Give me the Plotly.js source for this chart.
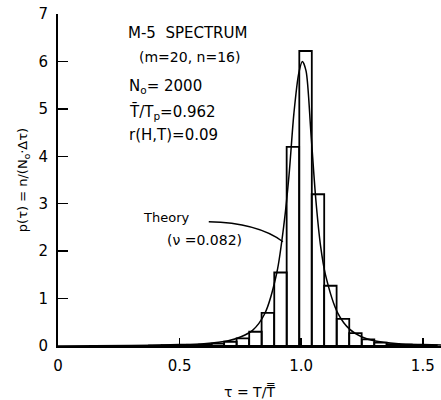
<!DOCTYPE html>
<html>
<head>
<meta charset="utf-8">
<script src="https://cdn.plot.ly/plotly-3.0.1.min.js"></script>
<style>html,body{margin:0;padding:0;background:#fff;}#chart{width:441px;height:400px;}</style>
</head>
<body>
<div id="chart"></div>
<script>
// Histogram bins (centres in tau) and heights p(tau)
var binCenters = [0.400, 0.452, 0.503, 0.555, 0.606, 0.657, 0.709, 0.760, 0.812, 0.863, 0.915, 0.966, 1.018, 1.069, 1.120, 1.172, 1.223, 1.275, 1.326, 1.377, 1.429, 1.480, 1.532];
var binHeights = [0.01, 0.015, 0.02, 0.025, 0.03, 0.05, 0.09, 0.16, 0.30, 0.70, 1.55, 4.2, 6.22, 3.2, 1.27, 0.57, 0.27, 0.14, 0.07, 0.04, 0.03, 0.02, 0.015];
var binWidth = 0.0514;

// Theory curve
var theoryTau = [0.0, 0.3, 0.5, 0.6, 0.7, 0.75, 0.8, 0.85, 0.9, 0.93, 0.95, 0.97, 0.99, 1.005, 1.02, 1.04, 1.06, 1.08, 1.1, 1.15, 1.2, 1.25, 1.3, 1.4, 1.5, 1.575];
var theoryP   = [0.0, 0.01, 0.03, 0.05, 0.11, 0.19, 0.33, 0.68, 1.55, 2.6, 3.6, 4.9, 5.75, 6.0, 5.8, 4.5, 3.1, 2.1, 1.5, 0.70, 0.35, 0.19, 0.11, 0.05, 0.03, 0.02];

var xTicks = [0, 0.5, 1.0, 1.5];
var xTickText = ['0', '0.5', '1.0', '1.5'];
var yTicks = [0, 1, 2, 3, 4, 5, 6, 7];

var widths = binCenters.map(function(){ return binWidth; });

var traces = [
  {
    type: 'bar', x: binCenters, y: binHeights, width: widths,
    marker: {color: 'rgba(255,255,255,0)', line: {color: '#000', width: 1.8}},
    hoverinfo: 'skip', showlegend: false
  },
  {
    type: 'scatter', mode: 'lines', x: theoryTau, y: theoryP,
    line: {color: '#000', width: 1.5, shape: 'spline', smoothing: 0.8},
    hoverinfo: 'skip', showlegend: false
  }
];

var F = 'DejaVu Sans, Liberation Sans, sans-serif';
var layout = {
  width: 441, height: 400,
  margin: {l: 58, r: 0, t: 14, b: 54},
  paper_bgcolor: '#fff', plot_bgcolor: '#fff',
  font: {family: F, size: 14, color: '#000'},
  showlegend: false,
  bargap: 0,
  xaxis: {
    range: [0, 1.575], tickvals: xTicks, ticktext: xTickText,
    ticks: 'inside', ticklen: 8, tickwidth: 1.5, tickcolor: '#000',
    showline: true, linecolor: '#000', linewidth: 2,
    showgrid: false, zeroline: false, ticklabelstandoff: 5,
    tickfont: {family: F, size: 15, color: '#000'},
    title: {text: 'τ = T/T\u033F', font: {family: F, size: 14, color: '#000'}, standoff: 14}
  },
  yaxis: {
    range: [0, 7], tickvals: yTicks,
    ticks: 'inside', ticklen: 10, tickwidth: 1.5, tickcolor: '#000',
    showline: true, linecolor: '#000', linewidth: 2,
    showgrid: false, zeroline: false, ticklabelstandoff: 5,
    tickfont: {family: F, size: 15, color: '#000'},
    title: {text: 'p(τ) = n/(N<sub>o</sub>·Δτ)', font: {family: F, size: 13, color: '#000'}, standoff: 8}
  },
  annotations: [
    {xref: 'x', yref: 'y', x: 0.532, y: 6.6, text: 'M-5\u00a0\u00a0SPECTRUM', showarrow: false, xanchor: 'center', yanchor: 'middle', font: {family: F, size: 15}},
    {xref: 'x', yref: 'y', x: 0.540, y: 6.09, text: '(m=20, n=16)', showarrow: false, xanchor: 'center', yanchor: 'middle', font: {family: F, size: 14}},
    {xref: 'x', yref: 'y', x: 0.285, y: 5.48, text: 'N<sub>o</sub>= 2000', showarrow: false, xanchor: 'left', yanchor: 'middle', font: {family: F, size: 15}},
    {xref: 'x', yref: 'y', x: 0.285, y: 4.93, text: 'T\u0304/T<sub>p</sub>=0.962', showarrow: false, xanchor: 'left', yanchor: 'middle', font: {family: F, size: 15}},
    {xref: 'x', yref: 'y', x: 0.285, y: 4.45, text: 'r(H,T)=0.09', showarrow: false, xanchor: 'left', yanchor: 'middle', font: {family: F, size: 15}},
    {xref: 'x', yref: 'y', x: 0.342, y: 2.70, text: 'Theory', showarrow: false, xanchor: 'left', yanchor: 'middle', font: {family: F, size: 13}},
    {xref: 'x', yref: 'y', x: 0.441, y: 2.23, text: '(ν =0.082)', showarrow: false, xanchor: 'left', yanchor: 'middle', font: {family: F, size: 14}}
  ],
  shapes: [
    {type: 'path', xref: 'x', yref: 'y', path: 'M 0.62 2.62 Q 0.82 2.6 0.925 2.2', line: {color: '#000', width: 1.3}}
  ]
};

Plotly.newPlot('chart', traces, layout, {staticPlot: true, displayModeBar: false});
</script>
</body>
</html>
